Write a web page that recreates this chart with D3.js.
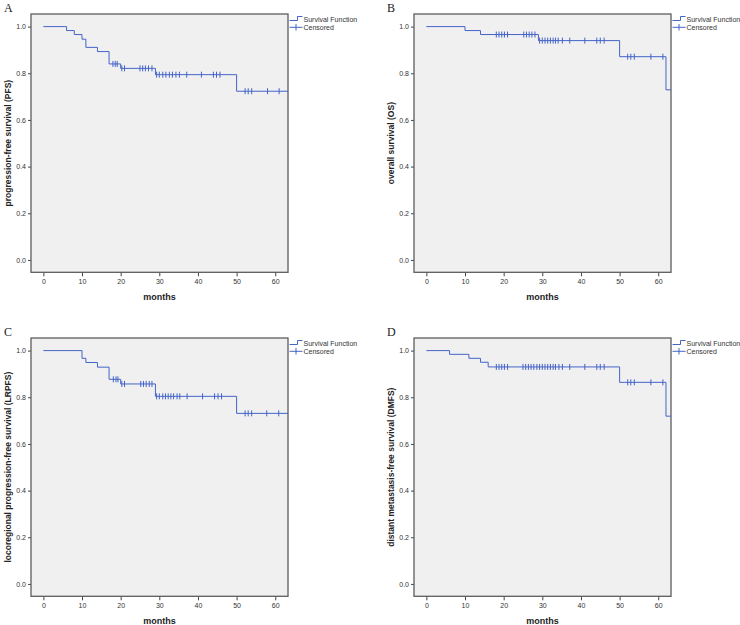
<!DOCTYPE html>
<html><head><meta charset="utf-8">
<script src="https://cdn.jsdelivr.net/npm/d3@7"></script>
<style>body{margin:0;background:#fff}svg{display:block}</style>
</head><body>
<svg id="c" width="740" height="625"></svg>
<script>
// ---- data ----
const panelLetters = ["A", "B", "C", "D"];
const yTitles = ["progression-free survival (PFS)", "overall survival (OS)",
  "locoregional progression-free survival (LRPFS)", "distant metastasis-free survival (DMFS)"];
const xTitle = "months";
const xTicks = [0, 10, 20, 30, 40, 50, 60];
const yTicks = [0.0, 0.2, 0.4, 0.6, 0.8, 1.0];
const legendLabels = ["Survival Function", "Censored"];

const pfsTimes = [0, 6, 8, 10, 11, 14, 17, 20, 29, 50];
const pfsSurv  = [1, 0.983, 0.966, 0.946, 0.911, 0.893, 0.840, 0.821, 0.794, 0.723];
const pfsCens  = [18, 18.6, 19.1, 20.3, 21, 25, 25.7, 26.4, 27.2, 28.1, 29.3, 30, 30.9, 31.7, 32.6, 33.4, 34.3, 35.2, 37.1, 40.9, 44, 44.8, 45.7, 52.2, 53, 53.9, 58, 61];
const pfsEnd = 63.3;

const osTimes = [0, 10, 14, 29, 50, 62];
const osSurv  = [1, 0.983, 0.966, 0.940, 0.871, 0.729];
const osCens  = [18.1, 18.8, 19.5, 20.2, 21, 25.2, 25.9, 26.6, 27.3, 28.1, 29.3, 30, 30.7, 31.4, 32.1, 32.8, 33.4, 34.1, 35.2, 37.1, 41, 44.1, 45, 46, 52.1, 52.9, 53.8, 58.1, 61.2];
const osEnd = 63.3;

const lrpfsTimes = [0, 10, 11, 14, 17, 20, 29, 50];
const lrpfsSurv  = [1, 0.967, 0.949, 0.929, 0.877, 0.857, 0.804, 0.731];
const lrpfsCens  = [18.1, 18.8, 19.3, 20.3, 21, 25.2, 25.9, 26.6, 27.4, 28.1, 29.3, 30, 30.9, 31.6, 32.3, 33, 33.7, 34.6, 35.3, 37.2, 41.2, 44.3, 45.2, 46.1, 52.2, 53, 53.9, 57.8, 60.9];
const lrpfsEnd = 63.3;

const dmfsTimes = [0, 6, 11, 14, 16, 50, 62];
const dmfsSurv  = [1, 0.984, 0.967, 0.950, 0.930, 0.864, 0.719];
const dmfsCens  = [18.1, 18.8, 19.5, 20.2, 21, 25, 25.7, 26.4, 27.1, 27.8, 28.6, 29.3, 30, 30.7, 31.4, 32.1, 32.8, 33.4, 34.3, 35.2, 37.1, 41, 44.1, 45, 46, 52.1, 52.9, 53.8, 58.1, 61.2];
const dmfsEnd = 63.3;

const panels = [
  {times: pfsTimes, surv: pfsSurv, cens: pfsCens, end: pfsEnd},
  {times: osTimes, surv: osSurv, cens: osCens, end: osEnd},
  {times: lrpfsTimes, surv: lrpfsSurv, cens: lrpfsCens, end: lrpfsEnd},
  {times: dmfsTimes, surv: dmfsSurv, cens: dmfsCens, end: dmfsEnd}
];

// ---- layout ----
const offsets = [[0, 0], [383, 0], [0, 324], [383, 324]];
const L = 31, R = 288, T = 14, B = 272.3;
const blue = "#4464c8";
const sans = "'Liberation Sans', Arial, sans-serif";
const svg = d3.select("#c");

panels.forEach((p, i) => {
  const [ox, oy] = offsets[i];
  const g = svg.append("g").attr("transform", `translate(${ox},${oy})`);
  const x = d3.scaleLinear().domain([-3.2, 63.3]).range([L, R]);
  const y = d3.scaleLinear().domain([-0.053, 1.054]).range([B, T]);

  g.append("rect").attr("x", L).attr("y", T).attr("width", R - L).attr("height", B - T)
    .attr("fill", "#f0f0f0").attr("stroke", "none");

  const xa = g.append("g").attr("transform", `translate(0,${B})`)
    .call(d3.axisBottom(x).tickValues(xTicks).tickSize(4).tickSizeOuter(0).tickFormat(d3.format("d")));
  const ya = g.append("g").attr("transform", `translate(${L},0)`)
    .call(d3.axisLeft(y).tickValues(yTicks).tickSize(3).tickSizeOuter(0).tickFormat(d3.format(".1f")));
  [xa, ya].forEach(a => {
    a.select(".domain").remove();
    a.selectAll("line").attr("stroke", "#444").attr("stroke-width", 1);
    a.selectAll("text").attr("font-family", sans).attr("font-size", 7).attr("fill", "#333");
  });
  xa.selectAll("text").attr("dy", "0.71em").attr("y", 6.5);
  ya.selectAll("text").attr("x", -5);

  g.append("rect").attr("x", L).attr("y", T).attr("width", R - L).attr("height", B - T)
    .attr("fill", "none").attr("stroke", "#5c5c5c").attr("stroke-width", 1.3);

  // KM step line
  const pts = p.times.map((t, k) => [t, p.surv[k]]);
  pts.push([p.end, p.surv[p.surv.length - 1]]);
  const line = d3.line().x(d => x(d[0])).y(d => y(d[1])).curve(d3.curveStepAfter);
  const clipId = "clip" + i;
  g.append("clipPath").attr("id", clipId).append("rect")
    .attr("x", L).attr("y", T).attr("width", R - L).attr("height", B - T);
  const cg = g.append("g").attr("clip-path", `url(#${clipId})`);
  cg.append("path").datum(pts).attr("d", line).attr("fill", "none")
    .attr("stroke", blue).attr("stroke-width", 1);

  const survAt = t => { let v = 1; p.times.forEach((tt, k) => { if (tt <= t) v = p.surv[k]; }); return v; };
  cg.selectAll("line.cens").data(p.cens).join("line").attr("class", "cens")
    .attr("x1", d => x(d)).attr("x2", d => x(d))
    .attr("y1", d => y(survAt(d)) - 3).attr("y2", d => y(survAt(d)) + 3)
    .attr("stroke", blue).attr("stroke-width", 1);

  // titles
  g.append("text").attr("x", (L + R) / 2).attr("y", 300).attr("text-anchor", "middle")
    .attr("font-family", sans).attr("font-weight", "bold").attr("font-size", 9).attr("fill", "#222")
    .text(xTitle);
  g.append("text").attr("transform", `translate(11,${(T + B) / 2}) rotate(-90)`)
    .attr("text-anchor", "middle").attr("font-family", sans).attr("font-weight", "bold")
    .attr("font-size", 8.5).attr("fill", "#222").text(yTitles[i]);
  g.append("text").attr("x", 4).attr("y", 12).attr("font-family", "'Liberation Serif', 'Times New Roman', serif")
    .attr("font-size", 12).attr("fill", "#222").text(panelLetters[i]);

  // legend
  const lx = R + 1.5;
  g.append("path").attr("d", `M${lx},20.5H${lx + 8}V16.5H${lx + 13}`)
    .attr("fill", "none").attr("stroke", blue).attr("stroke-width", 1);
  g.append("line").attr("x1", lx).attr("x2", lx + 13).attr("y1", 27.3).attr("y2", 27.3)
    .attr("stroke", blue).attr("stroke-width", 1);
  g.append("line").attr("x1", lx + 6.5).attr("x2", lx + 6.5).attr("y1", 24).attr("y2", 30.5)
    .attr("stroke", blue).attr("stroke-width", 1);
  legendLabels.forEach((t, k) => {
    g.append("text").attr("x", lx + 14).attr("y", 21.5 + k * 8.3).attr("font-family", sans)
      .attr("font-size", 7).attr("fill", "#333").text(t);
  });
});
</script>
</body></html>
